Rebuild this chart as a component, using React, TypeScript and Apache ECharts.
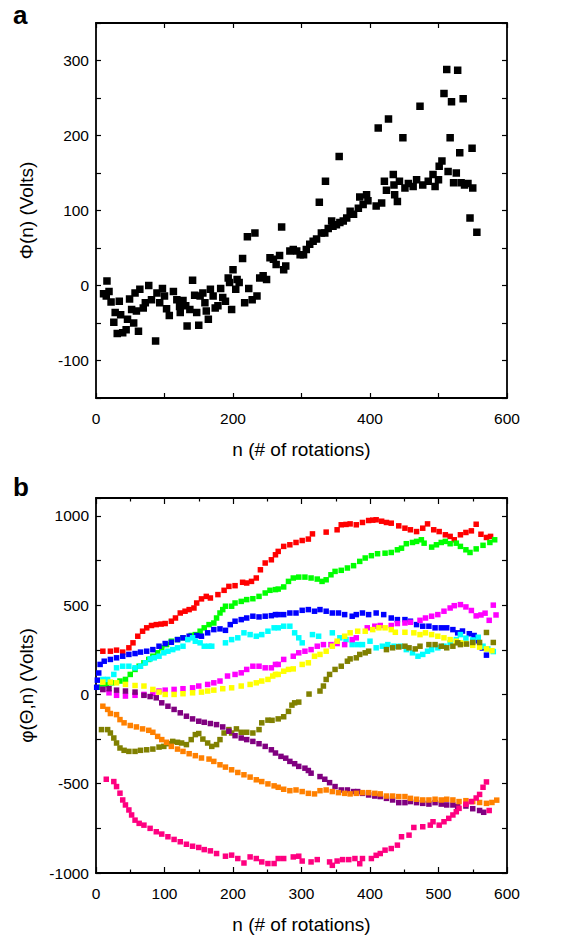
import React, { useEffect, useRef } from "react";
import * as echarts from "echarts";

// Panel a: Φ(n) values [n, Volts]
const phiPoints: number[][] = [
  [11,-11],[16,6],[15,-14],[19,-8],[22,-22],[26,-49],[28,-36],[31,-64],[34,-21],[36,-39],[39,-63],[44,-59],
  [46,-45],[49,-18],[52,-32],[55,-50],[57,-10],[59,-34],[62,-61],[64,-5],[69,-30],[72,-23],[77,0],[81,-19],
  [87,-74],[89,-10],[93,-23],[97,-4],[100,-14],[103,-31],[107,-40],[113,-8],[118,-19],[122,-28],[123,-36],
  [127,-20],[131,-27],[133,-54],[137,-32],[141,7],[144,-13],[147,-36],[150,-53],[152,-14],[156,-10],[159,-23],
  [161,-34],[164,-45],[167,-5],[171,-14],[174,-30],[178,-27],[182,-4],[185,-16],[189,-21],[193,10],[195,4],
  [198,-32],[200,21],[204,-5],[206,8],[209,4],[214,36],[217,-23],[221,65],[223,-4],[228,-19],[232,70],[235,-14],
  [239,10],[244,13],[249,8],[254,37],[259,35],[263,28],[268,40],[271,78],[274,21],[277,26],[283,46],[288,48],
  [293,46],[298,41],[303,41],[307,48],[312,55],[317,59],[322,62],[326,111],[329,70],[334,70],[339,76],[344,86],
  [346,79],[351,81],[356,84],[361,86],[366,90],[371,99],[376,95],[383,103],[390,108],[397,113],[409,106],
  [417,110],[440,112],[546,90],[556,71],
  [335,139],[355,172],[385,118],[395,121],[412,210],[421,139],[424,127],[427,222],[434,148],[435,134],[436,121],
  [443,139],[448,197],[451,130],[456,136],[463,132],[468,141],[473,239],[477,134],[485,139],[492,148],[495,132],
  [500,141],[501,159],[505,166],[508,256],[512,288],[514,152],[517,197],[519,245],[522,137],[526,150],[528,287],
  [531,177],[533,137],[536,249],[538,134],[543,136],[549,183],[550,130]
];

// Panel b: φ(Θ,n) series [n, Volts]
const redPts: number[][] = [
  [10,242],[21,242],[30,248],[39,237],[48,261],[54,289],[61,326],[68,354],[74,373],[81,386],[88,391],[95,394],
  [101,397],[110,410],[116,428],[123,456],[130,466],[136,475],[143,484],[147,512],[154,535],[161,549],[167,540],
  [178,559],[187,583],[194,605],[203,609],[214,628],[220,624],[227,633],[234,652],[240,698],[247,736],[256,754],
  [262,782],[266,801],[274,829],[283,838],[292,851],[301,862],[310,870],[316,899],[336,909],[352,922],[358,950],
  [365,952],[371,955],[380,950],[389,963],[398,974],[404,976],[409,978],[417,970],[424,963],[431,959],[442,944],
  [451,931],[459,922],[468,912],[477,931],[484,955],[493,922],[501,912],[510,894],[517,885],[523,866],[532,894],
  [540,907],[548,916],[555,953],[562,897],[570,879],[576,885]
];
const greenPts: number[][] = [
  [8,40],[15,55],[23,65],[35,75],[43,84],[50,112],[57,140],[63,158],[70,177],[77,196],[83,214],[90,233],[96,261],
  [103,279],[110,298],[119,307],[127,317],[139,330],[145,335],[152,354],[158,373],[165,391],[172,400],[176,428],
  [181,456],[185,475],[189,494],[198,494],[203,512],[212,521],[220,531],[229,536],[238,549],[247,568],[254,583],
  [262,587],[266,590],[274,602],[281,633],[288,652],[296,657],[305,657],[314,652],[323,646],[330,633],[336,642],
  [343,670],[349,689],[358,695],[367,708],[376,721],[385,745],[393,764],[402,777],[411,788],[422,791],[431,795],
  [440,810],[446,819],[453,844],[462,851],[468,857],[475,866],[479,847],[490,825],[497,838],[504,851],[510,857],
  [517,844],[526,847],[532,829],[540,810],[546,795],[555,815],[565,835],[575,851],[582,866]
];
const bluePts: number[][] = [
  [1,40],[2,80],[4,120],[6,168],[12,186],[21,196],[30,205],[39,214],[48,224],[57,229],[65,237],[74,242],[83,251],
  [92,270],[101,285],[110,292],[119,307],[127,317],[136,326],[147,330],[154,326],[163,345],[172,363],[181,367],
  [189,359],[196,391],[203,410],[212,419],[220,428],[229,438],[238,434],[247,438],[256,441],[262,447],[266,447],
  [274,447],[283,456],[292,456],[301,471],[310,475],[319,466],[327,475],[336,466],[345,456],[354,456],[363,447],
  [374,438],[380,447],[389,456],[398,447],[409,456],[420,447],[431,428],[440,419],[451,419],[459,410],[468,391],
  [477,382],[486,382],[495,373],[504,373],[512,373],[521,363],[528,345],[535,355],[545,340],[552,330],[558,300],
  [564,260],[570,220]
];
const cyanPts: number[][] = [
  [10,84],[17,84],[26,112],[30,149],[39,158],[48,158],[57,149],[65,158],[72,177],[79,199],[85,205],[92,214],
  [99,233],[105,242],[112,251],[119,261],[127,270],[134,307],[141,317],[145,298],[152,289],[158,270],[165,270],
  [169,270],[189,289],[198,307],[207,317],[216,345],[225,335],[234,326],[242,335],[251,354],[260,373],[266,373],
  [274,382],[283,382],[290,345],[296,317],[301,289],[316,335],[325,326],[345,345],[356,317],[365,307],[374,279],
  [382,279],[389,279],[400,298],[409,261],[418,270],[426,279],[435,270],[444,270],[453,251],[462,233],[470,214],
  [477,224],[484,242],[490,251],[499,261],[508,270],[517,289],[526,307],[532,335],[540,315],[550,305],[558,320],
  [565,270],[572,255],[580,240]
];
const magentaPts: number[][] = [
  [10,28],[19,9],[30,-5],[43,-9],[57,-5],[70,0],[83,6],[92,19],[101,24],[114,28],[127,32],[141,37],[150,47],
  [163,56],[172,65],[181,75],[192,103],[203,112],[212,121],[220,140],[229,158],[238,158],[247,149],[256,149],
  [262,168],[266,168],[274,196],[288,214],[296,233],[305,242],[314,251],[323,270],[332,279],[343,279],[352,285],
  [363,279],[374,307],[380,317],[396,373],[407,382],[415,386],[431,386],[440,397],[451,400],[459,404],[473,415],
  [481,428],[490,438],[499,447],[508,466],[517,484],[523,497],[532,503],[540,490],[548,470],[555,440],[562,445],
  [568,455],[574,415],[580,500],[584,445]
];
const yellowPts: number[][] = [
  [10,69],[21,69],[30,65],[43,56],[57,50],[70,47],[83,28],[92,13],[101,0],[114,0],[127,4],[141,9],[154,13],
  [163,19],[172,24],[185,32],[198,37],[212,47],[225,56],[234,65],[242,75],[251,84],[258,103],[262,112],[266,112],
  [274,130],[281,140],[288,143],[301,168],[310,177],[319,214],[327,224],[336,242],[345,270],[352,298],[363,326],
  [371,345],[382,354],[393,354],[404,363],[413,373],[422,373],[431,363],[437,348],[451,348],[464,345],[473,335],
  [481,345],[490,335],[499,326],[508,317],[517,307],[526,298],[532,289],[540,285],[550,275],[560,265],[570,255],
  [578,245]
];
const olivePts: number[][] = [
  [8,-197],[17,-197],[21,-216],[26,-244],[30,-272],[35,-300],[41,-313],[48,-319],[57,-319],[65,-313],[74,-310],
  [83,-306],[92,-295],[99,-291],[105,-276],[112,-263],[119,-268],[125,-272],[132,-281],[139,-253],[145,-225],
  [150,-219],[156,-250],[163,-272],[169,-291],[176,-281],[181,-253],[187,-216],[194,-197],[198,-216],[205,-193],
  [212,-212],[220,-212],[229,-216],[238,-197],[242,-159],[251,-144],[257,-145],[266,-137],[274,-125],[281,-95],
  [286,-60],[290,-47],[296,-43],[311,2],[327,19],[332,47],[336,84],[341,112],[349,140],[358,158],[367,186],
  [371,199],[380,205],[385,224],[393,233],[398,242],[424,251],[433,261],[442,266],[451,270],[457,261],[466,255],
  [473,270],[486,279],[495,279],[504,270],[512,261],[521,270],[528,289],[532,279],[541,282],[550,291],[560,291],
  [570,347],[580,291]
];
const purplePts: number[][] = [
  [10,28],[19,32],[30,24],[43,19],[57,13],[70,-5],[79,-12],[88,-19],[96,-47],[105,-66],[114,-84],[123,-103],
  [132,-122],[141,-137],[150,-150],[158,-156],[167,-163],[176,-169],[185,-182],[194,-206],[203,-231],[212,-244],
  [220,-253],[229,-263],[238,-276],[247,-291],[256,-310],[262,-328],[270,-347],[277,-357],[283,-375],[290,-388],
  [296,-403],[305,-413],[310,-426],[314,-441],[327,-460],[334,-475],[341,-494],[349,-516],[358,-535],[367,-535],
  [376,-544],[382,-544],[389,-554],[398,-563],[407,-569],[415,-572],[424,-582],[433,-591],[442,-606],[451,-606],
  [459,-600],[468,-606],[477,-610],[486,-614],[495,-606],[504,-614],[512,-619],[521,-619],[528,-628],[540,-625],
  [550,-640],[560,-650],[566,-660]
];
const orangePts: number[][] = [
  [10,-66],[17,-84],[21,-107],[30,-113],[35,-141],[41,-159],[50,-174],[59,-182],[68,-193],[77,-201],[83,-212],
  [90,-235],[96,-253],[103,-268],[110,-291],[119,-306],[127,-319],[136,-332],[145,-343],[154,-356],[165,-362],
  [172,-375],[181,-394],[189,-407],[198,-422],[207,-437],[216,-450],[225,-463],[234,-478],[242,-488],[251,-501],
  [260,-512],[266,-520],[274,-531],[283,-539],[292,-535],[301,-544],[310,-554],[319,-557],[327,-539],[336,-535],
  [345,-544],[354,-550],[363,-554],[371,-557],[380,-554],[389,-550],[398,-550],[407,-554],[415,-557],[424,-569],
  [433,-569],[442,-572],[451,-572],[459,-582],[468,-587],[477,-591],[486,-591],[495,-587],[504,-591],[512,-587],
  [521,-591],[530,-600],[540,-595],[550,-600],[560,-605],[570,-610],[578,-605],[585,-592]
];
const pinkPts: number[][] = [
  [15,-475],[26,-488],[30,-516],[35,-553],[39,-591],[43,-619],[48,-647],[52,-675],[57,-704],[63,-722],[70,-732],
  [79,-750],[88,-769],[96,-782],[105,-797],[114,-812],[123,-825],[132,-839],[141,-850],[150,-857],[158,-869],
  [167,-876],[176,-891],[189,-906],[198,-900],[207,-919],[216,-944],[225,-910],[234,-919],[242,-938],[251,-947],
  [260,-947],[266,-919],[274,-919],[288,-910],[296,-906],[301,-933],[314,-938],[323,-925],[341,-938],[345,-957],
  [352,-933],[360,-925],[369,-925],[378,-919],[385,-948],[389,-919],[402,-919],[409,-901],[415,-891],[422,-872],
  [431,-863],[440,-844],[446,-797],[457,-788],[464,-745],[477,-741],[488,-732],[492,-713],[501,-732],[508,-713],
  [515,-694],[521,-675],[526,-657],[530,-638],[540,-615],[548,-600],[555,-580],[560,-560],[565,-520],[570,-490],
  [574,-650]
];

const seriesB = [
  { name: "red", data: redPts, color: "#ff0000" },
  { name: "green", data: greenPts, color: "#00ff00" },
  { name: "blue", data: bluePts, color: "#0000ff" },
  { name: "cyan", data: cyanPts, color: "#00ffff" },
  { name: "magenta", data: magentaPts, color: "#ff00ff" },
  { name: "yellow", data: yellowPts, color: "#ffff00" },
  { name: "olive", data: olivePts, color: "#808000" },
  { name: "purple", data: purplePts, color: "#800080" },
  { name: "orange", data: orangePts, color: "#ff8000" },
  { name: "pink", data: pinkPts, color: "#ff0080" },
];

const FONT = '"Liberation Sans", Arial, sans-serif';
const lineStyle = { color: "#000", width: 1.8 };

function xAxes(gridIndex: number, labelStep: number, minor: boolean) {
  const common = {
    gridIndex,
    type: "value",
    min: 0,
    max: 600,
    interval: 100,
    splitLine: { show: false },
    axisLine: { show: true, onZero: false, lineStyle },
    axisTick: { show: true, inside: true, length: minor ? 6 : 5, lineStyle: { color: "#000", width: 1.2 } },
    minorTick: { show: minor, splitNumber: 2, length: 3.5, lineStyle: { color: "#000", width: 1.2 } },
  };
  return [
    {
      ...common,
      position: "bottom",
      name: "n (# of rotations)",
      nameLocation: "middle",
      nameGap: 42,
      nameTextStyle: { fontSize: 19, color: "#000", fontFamily: FONT },
      axisLabel: {
        color: "#000",
        fontSize: 15.5,
        fontFamily: FONT,
        margin: 12,
        formatter: (v: number) => (v % labelStep === 0 ? String(v) : ""),
      },
    },
    { ...common, position: "top", axisLabel: { show: false } },
  ];
}

function yAxes(gridIndex: number, min: number, max: number, interval: number, labelStep: number, name: string) {
  const common = {
    gridIndex,
    type: "value",
    min,
    max,
    interval,
    splitLine: { show: false },
    axisLine: { show: true, onZero: false, lineStyle },
    axisTick: { show: true, inside: true, length: 5, lineStyle: { color: "#000", width: 1.2 } },
  };
  return [
    {
      ...common,
      position: "left",
      name,
      nameLocation: "middle",
      nameGap: 60,
      nameTextStyle: { fontSize: 19, color: "#000", fontFamily: FONT },
      axisLabel: {
        color: "#000",
        fontSize: 15.5,
        fontFamily: FONT,
        margin: 7,
        formatter: (v: number) => (v % labelStep === 0 ? String(v) : ""),
      },
    },
    { ...common, position: "right", axisLabel: { show: false } },
  ];
}

export default function App() {
  const ref = useRef<HTMLDivElement>(null);
  useEffect(() => {
    if (!ref.current) return;
    const chart = echarts.init(ref.current, null, { renderer: "svg" });
    const option: any = {
      animation: false,
      backgroundColor: "#fff",
      grid: [
        { left: 96, top: 23, width: 411, height: 375 },
        { left: 96, top: 498, width: 411, height: 375 },
      ],
      xAxis: [...xAxes(0, 200, false), ...xAxes(1, 100, true)],
      yAxis: [
        ...yAxes(0, -150, 350, 50, 100, "Φ(n) (Volts)"),
        ...yAxes(1, -1000, 1100, 250, 500, "φ(Θ,n) (Volts)"),
      ],
      graphic: [
        { type: "text", left: 13, top: 2, style: { text: "a", font: `bold 26px ${FONT}`, fill: "#000" } },
        { type: "text", left: 13, top: 474, style: { text: "b", font: `bold 26px ${FONT}`, fill: "#000" } },
      ],
      series: [
        {
          type: "scatter",
          name: "phi",
          xAxisIndex: 0,
          yAxisIndex: 0,
          symbol: "rect",
          symbolSize: 7.5,
          itemStyle: { color: "#000", opacity: 1 },
          data: phiPoints,
        },
        ...seriesB.map((s) => ({
          type: "scatter",
          name: s.name,
          xAxisIndex: 2,
          yAxisIndex: 2,
          symbol: "rect",
          symbolSize: 5.5,
          itemStyle: { color: s.color, opacity: 1 },
          data: s.data,
        })),
      ],
    };
    chart.setOption(option);
    return () => chart.dispose();
  }, []);
  return <div ref={ref} style={{ position: "absolute", left: 0, top: 0, width: 577, height: 939 }} />;
}
